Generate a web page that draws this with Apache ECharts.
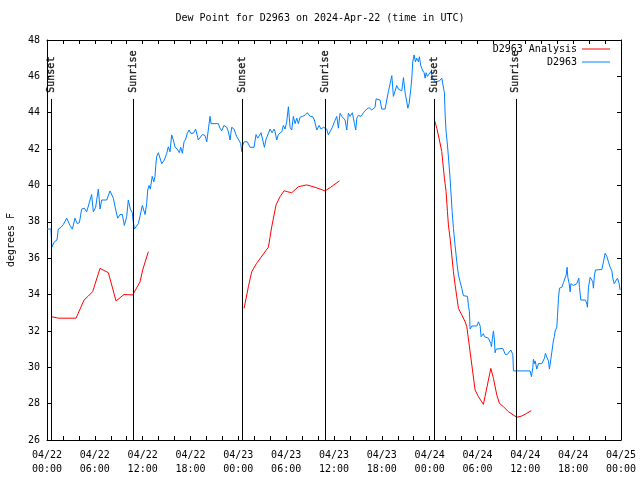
<!DOCTYPE html>
<html>
<head>
<meta charset="utf-8">
<script src="https://cdn.jsdelivr.net/npm/echarts@6/dist/echarts.min.js"></script>
<style>html,body{margin:0;padding:0;background:#fff}#c{width:640px;height:480px}</style>
</head>
<body>
<div id="c"></div>
<script>
// hours after 2024-04-22 00:00 UTC
const obsHours = [0.0,0.5,0.6,0.92,1.25,1.42,1.76,2.05,2.47,2.89,3.18,3.51,3.8,4.06,4.35,4.68,4.98,5.4,5.6,5.81,6.1,6.44,6.65,6.86,7.49,7.9,8.32,8.62,8.87,9.16,9.45,9.7,10.0,10.2,10.45,10.7,10.79,10.96,11.46,11.96,12.3,12.5,12.63,12.8,12.96,13.2,13.4,13.55,13.64,13.76,13.97,14.18,14.39,14.72,
14.8,15.02,15.22,15.43,15.64,15.85,16.06,16.35,16.6,16.77,16.98,17.19,17.4,17.6,17.82,18.03,18.36,18.65,18.98,19.2,19.49,19.82,20.04,20.24,20.45,20.58,21.5,21.7,21.92,22.2,22.55,22.75,22.96,23.17,23.46,23.8,24.13,24.3,24.43,24.55,24.72,25.13,25.47,25.97,26.22,26.43,26.6,26.85,27.06,27.27,27.48,27.64,27.98,28.23,28.48,
28.61,28.82,29.02,29.45,29.65,29.86,30.07,30.28,30.49,30.7,30.9,31.12,31.33,31.53,31.74,32.03,32.37,32.66,33.0,33.29,33.54,33.84,34.13,34.38,34.67,34.88,35.09,35.29,35.5,35.8,36.05,36.35,36.55,36.76,36.98,37.39,37.6,37.8,38.02,38.31,38.56,38.73,38.86,39.06,39.4,39.69,40.11,40.4,40.74,40.94,41.15,41.28,41.78,41.99,42.41,42.62,42.82,43.04,43.25,43.45,
43.54,43.66,43.87,44.08,44.29,44.5,44.71,44.92,45.13,45.26,45.42,45.63,45.76,45.88,46.05,46.21,46.38,46.59,46.71,46.88,47.09,47.3,47.43,47.55,47.72,47.97,48.14,48.39,48.68,48.89,49.22,49.4,49.52,49.72,49.85,49.94,50.06,50.23,50.4,50.56,50.69,50.82,50.98,51.19,51.4,51.61,51.82,52.03,52.23,52.74,52.86,52.99,53.07,
53.29,53.91,54.12,54.24,54.33,54.45,54.74,54.87,55.37,55.58,55.67,55.75,55.87,56.0,56.12,56.21,56.34,56.5,57.17,57.34,57.5,57.76,58.0,58.18,58.3,58.43,58.51,60.6,60.69,60.77,60.94,61.02,61.14,61.23,61.44,61.64,61.86,62.07,62.27,62.4,62.52,62.7,62.9,63.02,63.2,63.36,63.53,63.65,63.74,63.95,64.03,64.16,64.28,64.58,64.78,64.99,65.12,65.24,65.33,65.5,65.62,65.71,65.83,66.04,66.25,66.46,66.71,66.79,66.96,67.54,67.72,67.79,67.92,68.13,68.34,68.46,68.54,68.67,68.8,69.6,69.8,70.01,70.22,70.43,70.64,70.85,70.98,71.14,71.39,71.56,71.68,71.77,71.89];
const obsDew = [37.6,37.6,36.6,36.9,37.0,37.6,37.7,37.85,38.2,37.8,37.6,38.2,37.9,37.95,38.7,38.75,38.55,39.2,39.5,38.55,38.8,39.8,38.7,39.2,39.2,39.7,39.3,38.65,38.2,38.4,38.4,37.8,38.3,39.2,38.7,38.5,38.1,37.6,37.9,38.9,38.4,39.0,39.75,40.0,39.8,40.5,40.2,40.5,41.1,41.6,41.8,41.5,41.2,41.4,
41.5,41.77,42.13,41.85,42.78,42.5,42.1,42.0,41.8,42.1,41.77,42.4,42.55,42.87,43.05,42.87,42.87,43.1,42.5,42.5,42.8,42.75,42.4,42.4,43.8,43.4,43.4,43.15,43.0,43.3,43.2,42.96,42.5,43.2,43.1,42.68,42.45,42.3,41.86,42.2,42.4,42.4,42.1,42.1,42.8,42.6,42.7,42.9,42.5,42.1,42.55,42.5,43.1,42.9,43.1,
42.96,42.5,42.8,42.96,43.3,43.1,43.5,44.33,43.2,43.05,43.8,43.4,43.7,43.4,43.75,43.8,43.86,44.0,43.8,43.8,43.6,43.05,43.3,43.1,43.2,43.3,43.1,42.78,42.96,43.2,43.5,43.8,43.15,43.97,43.8,43.6,43.05,43.97,43.8,44.0,43.4,43.05,43.7,43.85,43.8,44.0,44.2,44.28,44.15,44.05,44.3,44.76,44.7,44.2,44.2,44.7,45.16,45.6,46.04,44.9,
44.8,45.0,45.5,45.3,45.4,45.2,45.93,45.1,44.6,44.25,44.5,45.3,45.9,46.8,47.18,46.8,47.0,46.8,47.08,46.6,46.35,46.2,45.9,46.2,46.0,45.9,46.26,45.9,45.7,45.7,45.75,45.75,45.9,45.9,45.1,43.88,42.96,42.23,41.3,40.4,39.47,38.56,37.64,36.7,35.8,35.07,34.7,34.35,33.94,33.9,33.4,33.05,32.1,
32.27,32.27,32.5,32.6,32.27,31.68,31.85,31.68,31.6,31.6,31.3,31.13,31.6,32.0,31.5,30.8,31.0,31.04,31.04,30.95,30.7,30.72,30.77,30.95,31.04,30.7,29.8,29.8,29.7,29.48,30.0,30.44,30.2,30.35,29.9,30.2,30.3,30.2,30.2,30.5,30.77,30.55,30.35,29.9,30.45,30.95,31.5,31.7,32.0,32.2,32.8,33.8,34.35,34.4,34.65,34.7,35.07,35.5,34.95,34.6,34.15,34.6,34.65,34.5,34.4,34.6,34.9,34.4,33.7,33.7,33.48,33.3,34.4,34.95,34.95,34.7,34.35,35.07,35.35,35.38,35.8,36.27,36.1,35.8,35.5,35.3,34.9,34.6,34.65,34.9,35.0,34.6,34.25];

// analysis runs (null = gap between runs)
const anaHours = [0.59,1.42,3.64,4.65,5.19,5.73,6.65,7.7,8.66,9.66,10.75,11.67,12.0,12.71, 18,
24.72,25.26,25.68,26.3,27.14,27.77,28.19,28.73,29.23,29.74,30.2,30.7,31.53,32.58,33.63,34.88,35.51,36.68, 42,
48.6,48.9,49.22,49.52,49.64,49.85,50.06,50.23,50.35,50.56,50.77,50.98,51.19,51.61,52.03,52.45,52.66,53.7,54.12,54.74,55.67,56.0,56.42,56.75,57.25,57.88,58.93,59.56,60.19,60.73];
const anaDew = [32.78,32.7,32.7,33.7,33.92,34.16,35.44,35.2,33.65,34.0,33.98,34.7,35.35,36.36, null,
33.24,34.43,35.26,35.72,36.23,36.6,37.73,38.93,39.38,39.71,39.65,39.6,39.93,40.03,39.9,39.7,39.88,40.25, null,
43.6,43.14,42.5,41.86,41.3,40.4,39.66,38.56,37.83,37.1,36.18,35.26,34.53,33.24,32.88,32.5,32.23,28.75,28.38,27.96,29.94,29.39,28.48,28.02,27.83,27.56,27.25,27.32,27.47,27.61];

const sunHours = [0.5,10.8,24.47,34.9,48.6,58.8];
const sunNames = ['Sunset','Sunrise','Sunset','Sunrise','Sunset','Sunrise'];
const sunLineTop = 44.76, sunLabelBase = 45.1;

const xMin = 0, xMax = 72, xStep = 6;
const yMin = 26, yMax = 48, yStep = 2;
const startDay = 22, monthTxt = '04';

const FONT = 'DejaVu Sans Mono';
const pad = n => (n < 10 ? '0' : '') + n;
const xLabel = v => { const d = startDay + Math.floor(v / 24); return monthTxt + '/' + pad(d) + '\n' + pad(v % 24) + ':00'; };

const chart = echarts.init(document.getElementById('c'), null, {renderer: 'canvas'});
const axisCommon = {
  type: 'value', min: xMin, max: xMax, interval: xStep,
  axisLine: {onZero: false, lineStyle: {color: '#000', width: 1}},
  axisTick: {inside: true, length: 4, lineStyle: {color: '#000'}},
  minorTick: {show: true, splitNumber: 3, length: 4, lineStyle: {color: '#000'}},
  splitLine: {show: false}
};
const yCommon = {
  type: 'value', min: yMin, max: yMax, interval: yStep,
  axisLine: {show: true, onZero: false, lineStyle: {color: '#000', width: 1}},
  axisTick: {show: true, inside: true, length: 4, lineStyle: {color: '#000'}},
  splitLine: {show: false}
};
const legendCommon = {right: 30, padding: 0, align: 'right', icon: 'rect', itemWidth: 28, itemHeight: 1,
  textStyle: {fontFamily: FONT, fontSize: 10, color: '#000'}};
chart.setOption({
  animation: false,
  backgroundColor: '#fff',
  title: {text: 'Dew Point for D2963 on 2024-Apr-22 (time in UTC)', left: 'center', top: 13, padding: 0,
    textStyle: {fontFamily: FONT, fontSize: 10, fontWeight: 'normal', color: '#000'}},
  legend: [
    Object.assign({data: ['D2963 Analysis'], top: 44}, legendCommon),
    Object.assign({data: ['D2963'], top: 57}, legendCommon)
  ],
  grid: {left: 47, right: 19, top: 40, bottom: 40, containLabel: false, outerBoundsMode: 'none'},
  xAxis: [
    Object.assign({}, axisCommon, {position: 'bottom',
      axisLabel: {formatter: xLabel, fontFamily: FONT, fontSize: 10, color: '#000', margin: 8, lineHeight: 14, showMinLabel: true, showMaxLabel: true}}),
    Object.assign({}, axisCommon, {position: 'top', axisLabel: {show: false}})
  ],
  yAxis: [
    Object.assign({}, yCommon, {position: 'left', name: 'degrees F', nameLocation: 'middle', nameRotate: 90, nameGap: 31,
      nameTextStyle: {fontFamily: FONT, fontSize: 10, color: '#000'},
      axisLabel: {fontFamily: FONT, fontSize: 10, color: '#000', margin: 7}}),
    Object.assign({}, yCommon, {position: 'right', axisLabel: {show: false}})
  ],
  series: [
    {
      name: 'D2963', type: 'line', symbol: 'none', z: 3,
      lineStyle: {color: '#0080ff', width: 1}, itemStyle: {color: '#0080ff'},
      data: obsHours.map((h, i) => [h, obsDew[i]]),
      markLine: {
        silent: true, symbol: ['none', 'none'], label: {show: false},
        lineStyle: {color: '#000', width: 1, type: 'solid'},
        data: sunHours.map(h => [{coord: [h, sunLineTop]}, {coord: [h, yMin]}])
      }
    },
    {
      name: 'D2963 Analysis', type: 'line', symbol: 'none', z: 4, connectNulls: false,
      lineStyle: {color: '#ff0000', width: 1}, itemStyle: {color: '#ff0000'},
      data: anaHours.map((h, i) => [h, anaDew[i] === null ? '-' : anaDew[i]])
    },
    {
      name: 'sun', type: 'scatter', symbol: 'circle', symbolSize: 1, silent: true, z: 5,
      itemStyle: {color: 'rgba(0,0,0,0)'},
      label: {show: true, position: 'inside', rotate: 90, align: 'left', verticalAlign: 'middle',
        formatter: p => p.value[2], fontFamily: FONT, fontSize: 10, color: '#000',
        textBorderColor: '#000', textBorderWidth: 0.4},
      data: sunHours.map((h, i) => [h, sunLabelBase, sunNames[i]])
    }
  ]
});
</script>
</body>
</html>
